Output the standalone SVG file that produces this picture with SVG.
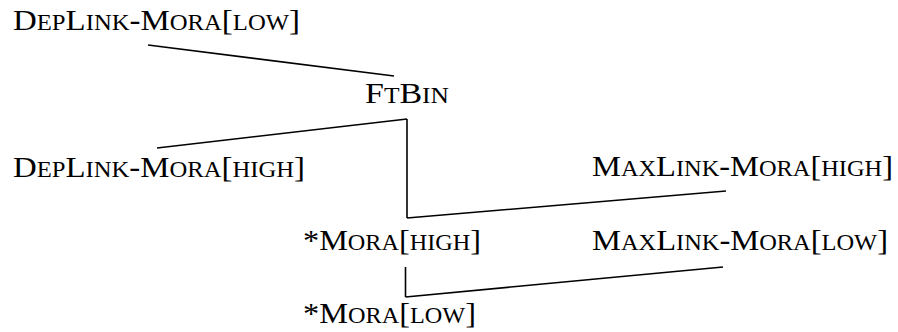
<svg xmlns="http://www.w3.org/2000/svg" width="898" height="332" viewBox="0 0 898 332">
<style>
text{font-family:"Liberation Serif","Times New Roman",serif;font-size:30px;fill:#000}
.s{font-size:22.5px}
line{stroke:#000;stroke-width:1.6;fill:none}
</style>
<rect width="898" height="332" fill="#fff"/>
<g id="connectors">
<line x1="148" y1="45" x2="394" y2="76"/>
<line x1="157" y1="148" x2="407" y2="119"/>
<line x1="407" y1="119" x2="407" y2="218"/>
<line x1="407" y1="218" x2="726" y2="191"/>
<line x1="405.5" y1="267" x2="405.5" y2="297"/>
<line x1="405.5" y1="297" x2="723" y2="267"/>
</g>
<g id="deplink-low"><text x="13" y="29.5" textLength="287" lengthAdjust="spacingAndGlyphs">D<tspan class="s">EP</tspan>L<tspan class="s">INK</tspan>-M<tspan class="s">ORA</tspan>[<tspan class="s">LOW</tspan>]</text></g>
<g id="ftbin"><text x="365" y="103" textLength="84" lengthAdjust="spacingAndGlyphs">F<tspan class="s">T</tspan>B<tspan class="s">IN</tspan></text></g>
<g id="deplink-high"><text x="13" y="177" textLength="292" lengthAdjust="spacingAndGlyphs">D<tspan class="s">EP</tspan>L<tspan class="s">INK</tspan>-M<tspan class="s">ORA</tspan>[<tspan class="s">HIGH</tspan>]</text></g>
<g id="maxlink-high"><text x="592" y="175.5" textLength="301" lengthAdjust="spacingAndGlyphs">M<tspan class="s">AX</tspan>L<tspan class="s">INK</tspan>-M<tspan class="s">ORA</tspan>[<tspan class="s">HIGH</tspan>]</text></g>
<g id="mora-high"><text x="303" y="250" textLength="178" lengthAdjust="spacingAndGlyphs">*M<tspan class="s">ORA</tspan>[<tspan class="s">HIGH</tspan>]</text></g>
<g id="maxlink-low"><text x="592" y="250" textLength="296" lengthAdjust="spacingAndGlyphs">M<tspan class="s">AX</tspan>L<tspan class="s">INK</tspan>-M<tspan class="s">ORA</tspan>[<tspan class="s">LOW</tspan>]</text></g>
<g id="mora-low"><text x="303" y="323" textLength="173" lengthAdjust="spacingAndGlyphs">*M<tspan class="s">ORA</tspan>[<tspan class="s">LOW</tspan>]</text></g>
</svg>
